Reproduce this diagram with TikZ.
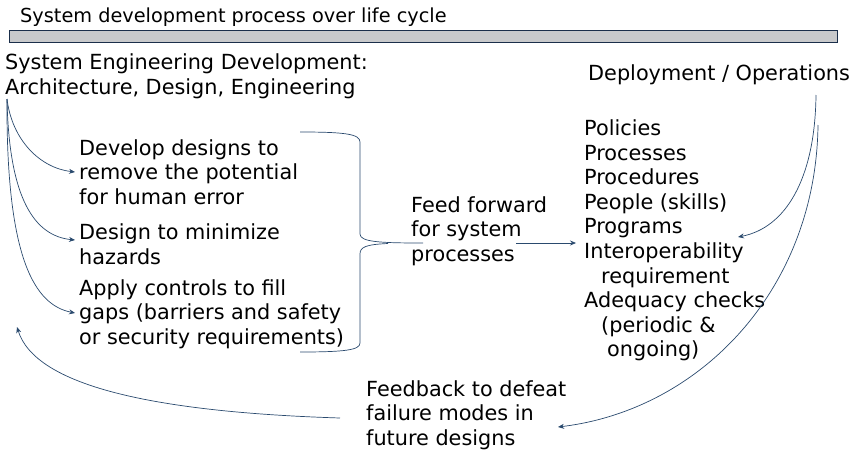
\documentclass[tikz,border=0pt]{standalone}
\usepackage{fontspec}
\setmainfont{DejaVu Sans}
\usetikzlibrary{arrows.meta}
\definecolor{linec}{HTML}{2A4A6E}
\definecolor{barfill}{HTML}{C8C9CB}
\definecolor{barline}{HTML}{1A2E4A}
\begin{document}
\begin{tikzpicture}[x=1pt,y=-1pt,
  txt/.style={anchor=west, align=left, inner sep=0pt, font=\fontsize{20.8}{24.6}\selectfont, text=black},
  link/.style={draw=linec, line width=0.7pt, -{Stealth[length=6pt,width=5pt]}},
  plain/.style={draw=linec, line width=0.7pt},
  barbox/.style={draw=barline, fill=barfill, line width=1.4pt, minimum width=828pt, minimum height=12pt, inner sep=0pt}]
\useasboundingbox (0,0) rectangle (866,455);
\node[txt, font=\fontsize{19.3}{23}\selectfont] (title) at (20,17) {System development process over life cycle};
\node[barbox] (bar) at (423.5,36.5) {};
\node[txt] (sed) at (5,76) {System Engineering Development:\\Architecture, Design, Engineering};
\node[txt] (dep) at (588,75) {Deployment / Operations};
\node[txt] (dev) at (79,172) {Develop designs to\\remove the potential\\for human error};
\node[txt] (des) at (79,244) {Design to minimize\\hazards};
\node[txt] (app) at (79,314) {Apply controls to fill\\gaps (barriers and safety\\or security requirements)};
\node[txt] (feed) at (411,231) {Feed forward\\for system\\processes};
\node[txt] (list) at (584,240.5) {Policies\\Processes\\Procedures\\People (skills)\\Programs\\Interoperability\\\hspace*{17pt}requirement\\Adequacy checks\\\hspace*{17pt}(periodic \&\\\hspace*{23pt}ongoing)};
\node[txt] (fb) at (366,415) {Feedback to defeat\\failure modes in\\future designs};
% connectors from system engineering development
\coordinate (sedfoot) at (7,99);
\draw[link] (sedfoot) .. controls (12,140) and (40,168) .. ([xshift=-4pt]dev.west);
\draw[link] (sedfoot) .. controls (9,200) and (35,236) .. ([xshift=-4pt,yshift=4pt]des.west);
\draw[link] (sedfoot) .. controls (6,260) and (35,305) .. ([xshift=-4pt,yshift=1pt]app.west);
% brace
\coordinate (bracetop) at (300,132);
\coordinate (bracebot) at (300,352);
\coordinate (bracetip) at (423,243);
\draw[plain] (bracetop) .. controls (345,132) and (360,134) .. (360,142) -- (360,234)
  .. controls (360,242) and (380,243) .. (bracetip);
\draw[plain] (388,243.5) .. controls (366,244.5) and (360,247) .. (360,254) -- (360,343)
  .. controls (360,350) and (345,352) .. (bracebot);
% feed forward arrow
\coordinate (ffs) at (516,243);
\draw[link, shorten >=8pt] (ffs) -- (ffs -| list.west);
% deployment arrows
\coordinate (dfoot1) at (816,95);
\coordinate (dfoot2) at (818,125);
\coordinate (t1) at (738,237);
\coordinate (t2) at (558,427);
\draw[link] (dfoot1) .. controls (815,180) and (785,228) .. (t1);
\draw[link] (dfoot2) .. controls (816,290) and (700,410) .. (t2);
% feedback arrow
\coordinate (fbs) at (340,418);
\coordinate (fbt) at (17,327);
\draw[link] (fbs) .. controls (150,412) and (35,385) .. (fbt);
\end{tikzpicture}
\end{document}
